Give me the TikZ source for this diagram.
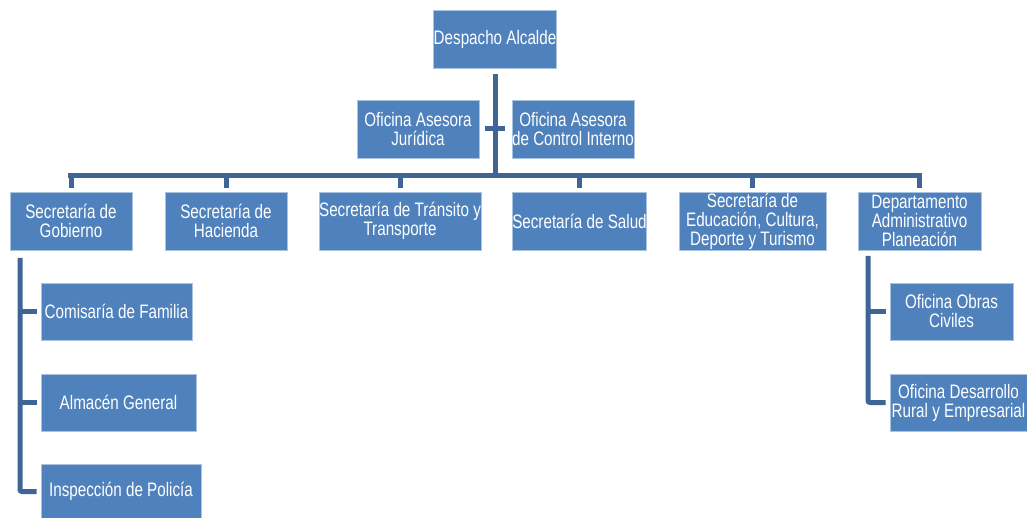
\documentclass[tikz,border=0pt]{standalone}
\usepackage{xcolor}
\usepackage{fontspec}
\setmainfont{Liberation Sans}[FakeStretch=0.78]
\usepackage{tikz}
\usetikzlibrary{positioning,calc}
\definecolor{orgblue}{RGB}{79,129,189}
\definecolor{orgline}{RGB}{62,101,150}
\definecolor{orgedge}{RGB}{170,195,225}

\begin{document}
\begin{tikzpicture}[
  x=1pt, y=-1pt,
  font=\fontsize{19.5}{19}\selectfont,
  unit/.style={rectangle, draw=orgedge, line width=0.6pt, fill=orgblue, text=white, inner sep=0pt, minimum height=58pt, align=center},
  conn/.style={draw=orgline, line width=5pt},
]
  \useasboundingbox (0,0) rectangle (1027,518);

  % Top
  \node[unit, minimum width=122pt] (alc) at (495,39) {Despacho Alcalde};
  \node[unit, minimum width=122pt] (jur) at (418,129) {Oficina Asesora\\Jurídica};
  \node[unit, minimum width=122pt] (ctrl) at (573,129) {Oficina Asesora\\de Control Interno};

  % Secretarias
  \node[unit, minimum width=122pt] (gob) at (71,221) {Secretaría de\\Gobierno};
  \node[unit, minimum width=122pt] (hac) at (226,221) {Secretaría de\\Hacienda};
  \node[unit, minimum width=162pt] (tra) at (400,221) {Secretaría de Tránsito y\\Transporte};
  \node[unit, minimum width=133pt] (sal) at (579.5,221) {Secretaría de Salud};
  \node[unit, minimum width=147pt] (edu) at (752.5,221) {Secretaría de\\Educación, Cultura,\\Deporte y Turismo};
  \node[unit, minimum width=123pt] (dep) at (919.5,221) {Departamento\\Administrativo\\Planeación};

  % Oficinas under Gobierno
  \node[unit, minimum width=151pt, minimum height=57pt] (com) at (116.5,311.5) {Comisaría de Familia};
  \node[unit, minimum width=155pt, minimum height=57pt] (alm) at (118.5,402.5) {Almacén General};
  \node[unit, minimum width=160pt, minimum height=55pt] (insp) at (121,491.5) {Inspección de Policía};

  % Oficinas under Planeacion
  \node[unit, minimum width=123pt, minimum height=57pt] (obr) at (951.5,311.5) {Oficina Obras\\Civiles};
  \node[unit, minimum width=137pt, minimum height=57pt] (des) at (958.5,402.5) {Oficina Desarrollo\\Rural y Empresarial};

  % Bus lines
  \coordinate (bus) at (495,176);
  \coordinate (grail) at (20,258);
  \coordinate (drail) at (868,256);

  \draw[conn, shorten <=6pt] (alc.south) -- (alc.south |- bus);
  \draw[conn, shorten <=6pt, shorten >=7pt] (jur.east) -- (ctrl.west);
  \draw[conn] ([xshift=-3pt]gob.north |- bus) -- ([xshift=2.5pt]dep.north |- bus);
  \foreach \n in {gob,hac,tra,sal,edu,dep}
    \draw[conn, shorten >=4pt] (\n.north |- bus) -- (\n.north);

  % Gobierno branch
  \draw[conn, rounded corners=2pt, shorten >=4pt] (grail) |- (insp.west);
  \draw[conn, shorten >=4pt] (grail |- com.west) -- (com.west);
  \draw[conn, shorten >=4pt] (grail |- alm.west) -- (alm.west);

  % Planeacion branch
  \draw[conn, rounded corners=2pt, shorten >=4pt] (drail) |- (des.west);
  \draw[conn, shorten >=4pt] (drail |- obr.west) -- (obr.west);
\end{tikzpicture}
\end{document}
